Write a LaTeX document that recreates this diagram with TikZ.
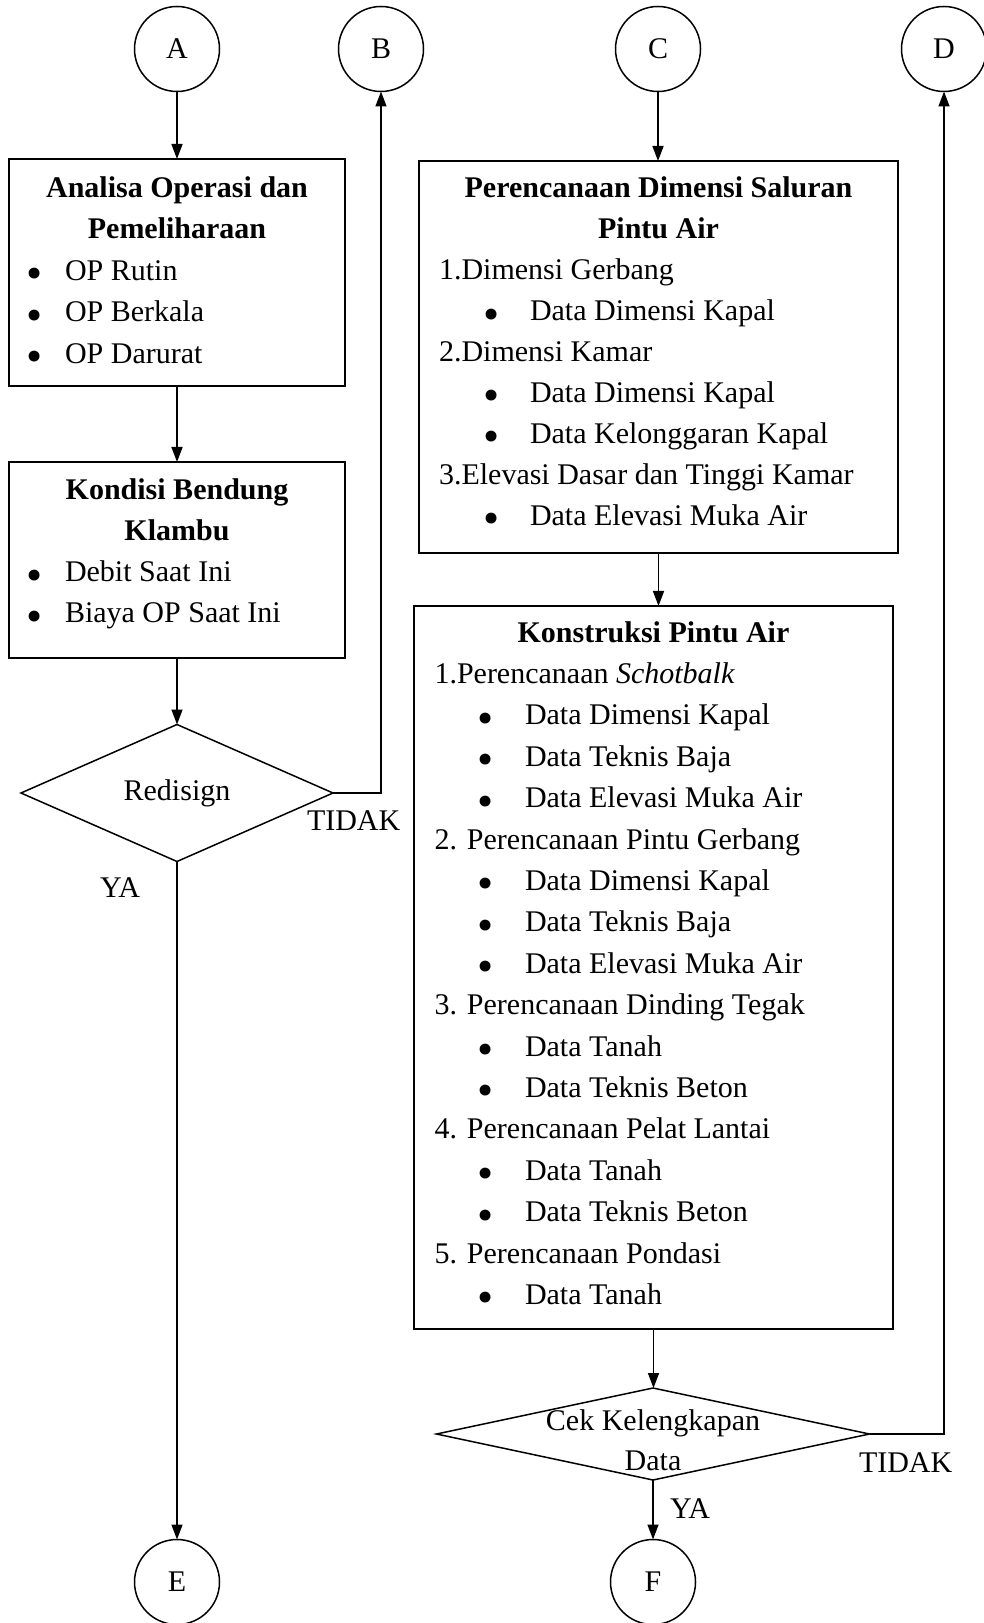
\documentclass[tikz,border=0pt]{standalone}
\usepackage{fontspec}
\setmainfont{Liberation Serif}
\newfontfamily\bulfont{DejaVu Sans}
\usetikzlibrary{shapes.geometric,arrows.meta}
\newcommand\mybitem[5]{\node[bul] (#1b) at (#2,#4+7.5) {•}; \node[txt] (#1) at (#3,#4) {#5};}
\begin{document}
\begin{tikzpicture}[x=0.4pt,y=-0.4pt,
  every node/.style={font=\fontsize{12}{14}\selectfont},
  txt/.style={anchor=base west, inner sep=0pt, outer sep=0pt},
  ttl/.style={anchor=base, inner sep=0pt, outer sep=0pt, font=\fontsize{12}{14}\selectfont\bfseries},
  bul/.style={anchor=base, inner sep=0pt, outer sep=0pt, font=\bulfont\fontsize{15}{15}\selectfont},
  boxsty/.style={draw, line width=0.7pt, rectangle, inner sep=0pt, outer sep=0pt},
  conn/.style={draw, circle, line width=0.6pt, minimum size=34pt, inner sep=0pt, outer sep=0pt},
  dec/.style={draw, diamond, line width=0.6pt, inner sep=0pt, outer sep=0pt},
  arr/.style={line width=0.6pt, -{Triangle[length=6pt,width=4.4pt]}},
  ln/.style={line width=0.6pt}]
\useasboundingbox (0,0) rectangle (983,1623);

% connectors circles
\node[conn] (A) at (177,49) {A};
\node[conn] (B) at (381,49) {B};
\node[conn] (C) at (658,49) {C};
\node[conn] (D) at (944,49) {D};
\node[conn] (E) at (177,1582) {E};
\node[conn] (F) at (653,1582) {F};

% boxes
\node[boxsty, minimum width=134.4pt, minimum height=90.8pt] (box1) at (177,272.5) {};
\node[boxsty, minimum width=134.4pt, minimum height=78.4pt] (box3) at (177,560) {};
\node[boxsty, minimum width=191.6pt, minimum height=156.8pt] (box2) at (658.5,357) {};
\node[boxsty, minimum width=191.6pt, minimum height=289.2pt] (box4) at (653.5,967.5) {};

% diamonds
\node[dec, minimum width=124.8pt, minimum height=54.8pt] (d1) at (177,793) {};
\node[dec, minimum width=173.2pt, minimum height=36.8pt] (d2) at (653,1434) {};

% box1 text
\node[ttl] (b1t1) at (177,197.5) {Analisa Operasi dan};
\node[ttl] (b1t2) at (177,239) {Pemeliharaan};
\mybitem{b1i1}{35}{65}{280.5}{OP Rutin}
\mybitem{b1i2}{35}{65}{322}{OP Berkala}
\mybitem{b1i3}{35}{65}{363.5}{OP Darurat}

% box3 text
\node[ttl] (b3t1) at (177,500) {Kondisi Bendung};
\node[ttl] (b3t2) at (177,541) {Klambu};
\mybitem{b3i1}{35}{65}{582}{Debit Saat Ini}
\mybitem{b3i2}{35}{65}{623}{Biaya OP Saat Ini}

% box2 text
\node[ttl] (b2t1) at (658.5,198) {Perencanaan Dimensi Saluran};
\node[ttl] (b2t2) at (658.5,239) {Pintu Air};
\node[txt] (b2n1) at (439,280) {1.Dimensi Gerbang};
\mybitem{b2i1}{492}{530}{321}{Data Dimensi Kapal}
\node[txt] (b2n2) at (439,362) {2.Dimensi Kamar};
\mybitem{b2i2}{492}{530}{402.5}{Data Dimensi Kapal}
\mybitem{b2i3}{492}{530}{443.4}{Data Kelonggaran Kapal}
\node[txt] (b2n3) at (439,484.3) {3.Elevasi Dasar dan Tinggi Kamar};
\mybitem{b2i4}{492}{530}{525.2}{Data Elevasi Muka Air}

% box4 text
\node[ttl] (b4t1) at (653.5,642) {Konstruksi Pintu Air};
\node[txt] (b4n1) at (434.5,683.4) {1.Perencanaan \textit{Schotbalk}};
\mybitem{b4i1}{486}{525}{724.8}{Data Dimensi Kapal}
\mybitem{b4i2}{486}{525}{766.2}{Data Teknis Baja}
\mybitem{b4i3}{486}{525}{807.6}{Data Elevasi Muka Air}
\node[txt] (b4n2) at (434.5,849) {2. Perencanaan Pintu Gerbang};
\mybitem{b4i4}{486}{525}{890.4}{Data Dimensi Kapal}
\mybitem{b4i5}{486}{525}{931.8}{Data Teknis Baja}
\mybitem{b4i6}{486}{525}{973.2}{Data Elevasi Muka Air}
\node[txt] (b4n3) at (434.5,1014.6) {3. Perencanaan Dinding Tegak};
\mybitem{b4i7}{486}{525}{1056}{Data Tanah}
\mybitem{b4i8}{486}{525}{1097.4}{Data Teknis Beton}
\node[txt] (b4n4) at (434.5,1138.8) {4. Perencanaan Pelat Lantai};
\mybitem{b4i9}{486}{525}{1180.2}{Data Tanah}
\mybitem{b4i10}{486}{525}{1221.6}{Data Teknis Beton}
\node[txt] (b4n5) at (434.5,1263) {5. Perencanaan Pondasi};
\mybitem{b4i11}{486}{525}{1304.4}{Data Tanah}

% diamond texts
\node[anchor=base, inner sep=0pt] (d1t) at (177,800) {Redisign};
\node[anchor=base, inner sep=0pt] (d2t1) at (653,1430) {Cek Kelengkapan};
\node[anchor=base, inner sep=0pt] (d2t2) at (653,1470) {Data};

% branch labels
\node[txt] (tidak1) at (307,830) {TIDAK};
\node[txt] (ya1) at (100,897) {YA};
\node[txt] (tidak2) at (859,1472) {TIDAK};
\node[txt] (ya2) at (670,1518) {YA};

% connectors
\draw[arr] (A.south) -- (box1.north);
\draw[arr] (box1.south) -- (box3.north);
\draw[arr] (box3.south) -- (d1.north);
\draw[arr] (d1.east) -| (B.south);
\draw[arr] (d1.south) -- (E.north);
\draw[arr] (C.south) -- (C.south |- box2.north);
\draw[arr] (box2.south) -- (box2.south |- box4.north);
\draw[arr] (box4.south) -- (box4.south |- d2.north);
\draw[arr] (d2.east) -| (D.south);
\draw[arr] (d2.south) -- (F.north);
\end{tikzpicture}
\end{document}
